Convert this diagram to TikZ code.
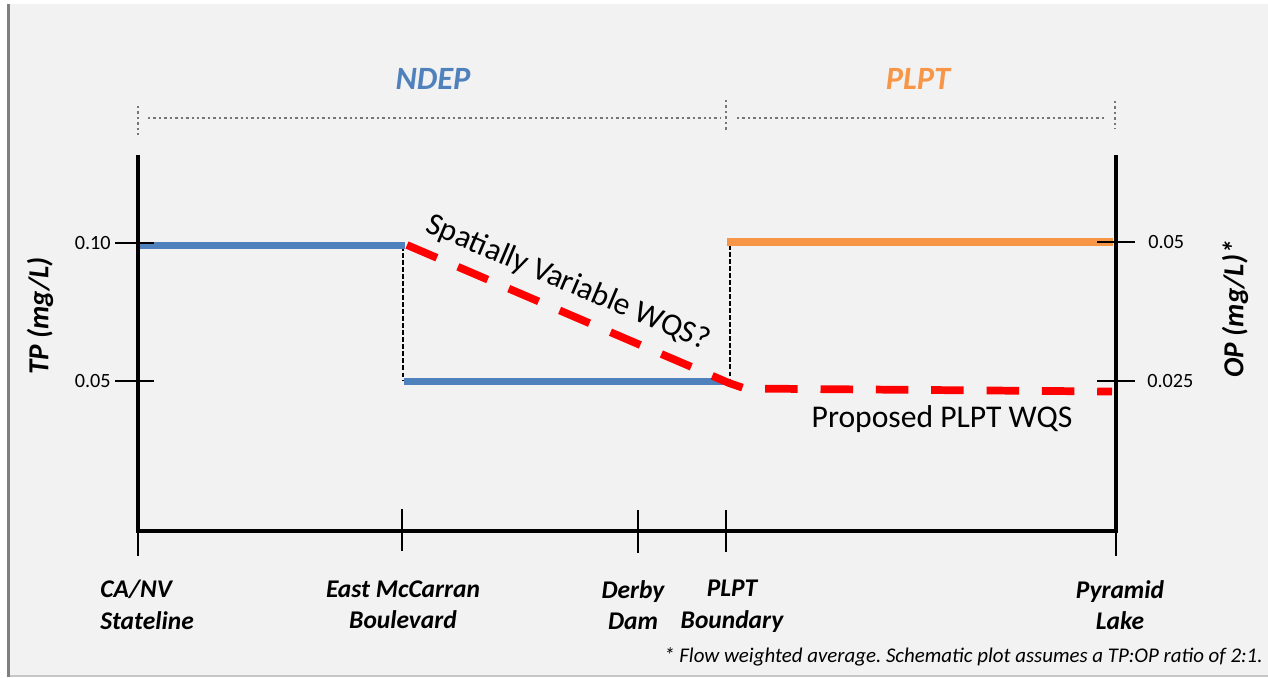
\documentclass[tikz,border=0pt]{standalone}
\usepackage{fontspec}
\usepackage{tikz}
\setmainfont{Carlito}
\frenchspacing

\definecolor{ndepblue}{HTML}{4F81BD}
\definecolor{plptorange}{HTML}{F79646}
\definecolor{panelgray}{HTML}{F2F2F2}
\definecolor{framegray}{HTML}{808080}
\definecolor{dotgray}{HTML}{767676}

\tikzset{
	axisline/.style={line width=2.3pt},
	tickline/.style={line width=0.85pt},
	levelline/.style={line width=4.4pt},
	guideline/.style={dash pattern=on 2.6pt off 1.4pt, line width=0.6pt},
	wqsline/.style={red, line width=4.4pt, dash pattern=on 18.5pt off 13pt},
	bracketline/.style={dotgray, line width=1.4pt, dash pattern=on 1.4pt off 1.7pt},
	ticklabel/.style={inner sep=0pt, font=\fontsize{11.5}{14}\selectfont},
	axislabel/.style={rotate=90, inner sep=0pt, font=\fontsize{16.5}{20}\selectfont\bfseries\itshape},
	agency/.style={inner sep=0pt, font=\fontsize{18.5}{22}\selectfont\bfseries\itshape},
	site/.style={align=center, anchor=north, inner sep=0pt, font=\fontsize{14.5}{17.8}\selectfont\bfseries\itshape},
	remark/.style={inner sep=0pt, font=\fontsize{18}{22}\selectfont},
}

\begin{document}
\begin{tikzpicture}[x=0.02cm, y=-0.02cm]
	
	\useasboundingbox (0,0) rectangle (1268,677);
	\fill[white] (0,0) rectangle (1268,677);
	\fill[panelgray] (10,4) rectangle (1268,676);
	\fill[framegray] (7,4) rectangle (10,677);
	\draw[gray!45, line width=0.8pt] (10,676) -- (1268,676);
	
	\coordinate (ltop) at (138,155);
	\coordinate (lbot) at (138,531);
	\coordinate (rbot) at (1116,531);
	\coordinate (rtop) at (1116,155);
	
	\coordinate (st2) at (138,556);
	\coordinate (em1) at (402,509);
	\coordinate (em2) at (402,551);
	\coordinate (dd1) at (638,510);
	\coordinate (dd2) at (638,553);
	\coordinate (pb1) at (726,510);
	\coordinate (pb2) at (726,552);
	\coordinate (pl2) at (1116,556);
	
	\coordinate (l10a) at (115,243);
	\coordinate (l10b) at (154,243);
	\coordinate (l05a) at (115,381);
	\coordinate (l05b) at (154,381);
	\coordinate (r05a) at (1097,242);
	\coordinate (r05b) at (1135,242);
	\coordinate (r025a) at (1097,381);
	\coordinate (r025b) at (1135,381);
	
	\coordinate (ndep1) at (139,245.5);
	\coordinate (ndep2) at (405,245.5);
	\coordinate (ndep3) at (404,381.5);
	\coordinate (ndep4) at (727,381.5);
	\coordinate (plpt1) at (727,242);
	\coordinate (plpt2) at (1113,242);
	
	\coordinate (g1) at (403,246);
	\coordinate (g2) at (403,380);
	\coordinate (g3) at (730,245);
	\coordinate (g4) at (730,380);
	
	\coordinate (w1) at (407,245);
	\coordinate (w2) at (729,383);
	\coordinate (w3) at (745,388.5);
	\coordinate (w4) at (1112,391.5);
	
	\coordinate (bl1) at (138,106);
	\coordinate (bl2) at (138,135);
	\coordinate (bm1) at (726,100);
	\coordinate (bm2) at (726,130);
	\coordinate (br1) at (1115,101);
	\coordinate (br2) at (1115,129);
	\coordinate (h1) at (148,118);
	\coordinate (h2) at (721,118);
	\coordinate (h3) at (737,118);
	\coordinate (h4) at (1107,118);
	
	\draw[bracketline] (bl1) -- (bl2);
	\draw[bracketline] (bm1) -- (bm2);
	\draw[bracketline] (br1) -- (br2);
	\draw[bracketline] (h1) -- (h2);
	\draw[bracketline] (h3) -- (h4);
	
	\draw[guideline] (g1) -- (g2);
	\draw[guideline] (g3) -- (g4);
	
	\draw[levelline, ndepblue] (ndep1) -- (ndep2);
	\draw[levelline, ndepblue] (ndep3) -- (ndep4);
	\draw[levelline, plptorange] (plpt1) -- (plpt2);
	\draw[wqsline] (w1) -- (w2) -- (w3) -- (w4);
	
	\draw[axisline] (ltop) -- (lbot) -- (rbot) -- (rtop);
	\draw[tickline] (lbot) -- (st2);
	\draw[tickline] (em1) -- (em2);
	\draw[tickline] (dd1) -- (dd2);
	\draw[tickline] (pb1) -- (pb2);
	\draw[tickline] (rbot) -- (pl2);
	\draw[tickline] (l10a) -- (l10b);
	\draw[tickline] (l05a) -- (l05b);
	\draw[tickline] (r05a) -- (r05b);
	\draw[tickline] (r025a) -- (r025b);
	
	\node[agency, text=ndepblue] (ndep) at (433,79) {NDEP};
	\node[agency, text=plptorange] (plpt) at (918,79) {PLPT};
	
	\node[ticklabel, anchor=east] (tp10) at (111,243) {0.10};
	\node[ticklabel, anchor=east] (tp05) at (111,381) {0.05};
	\node[ticklabel, anchor=west] (op05) at (1148,242) {0.05};
	\node[ticklabel, anchor=west] (op025) at (1147,381) {0.025};
	\node[axislabel] (tpaxis) at (40,316) {TP (mg/L)};
	\node[axislabel] (opaxis) at (1235,309) {OP (mg/L)*};
	
	\node[site, align=left, anchor=north west] (stateline) at (100,580) {CA/NV\\Stateline};
	\node[site] (mccarran) at (403,580) {East McCarran\\Boulevard};
	\node[site] (derby) at (633,580) {Derby\\Dam};
	\node[site] (boundary) at (732,580) {PLPT\\Boundary};
	\node[site] (pyramid) at (1120,580) {Pyramid\\Lake};
	
	\node[remark, rotate=-23] (spatial) at (568,283) {Spatially Variable WQS?};
	\node[remark, anchor=base] (proposed) at (942,427) {Proposed PLPT WQS};
	\node[inner sep=0pt, anchor=base east, font=\fontsize{11.9}{14}\selectfont\itshape] (note) at (1263,662) {* Flow weighted average. Schematic plot assumes a TP:OP ratio of 2:1.};
	
\end{tikzpicture}
\end{document}
